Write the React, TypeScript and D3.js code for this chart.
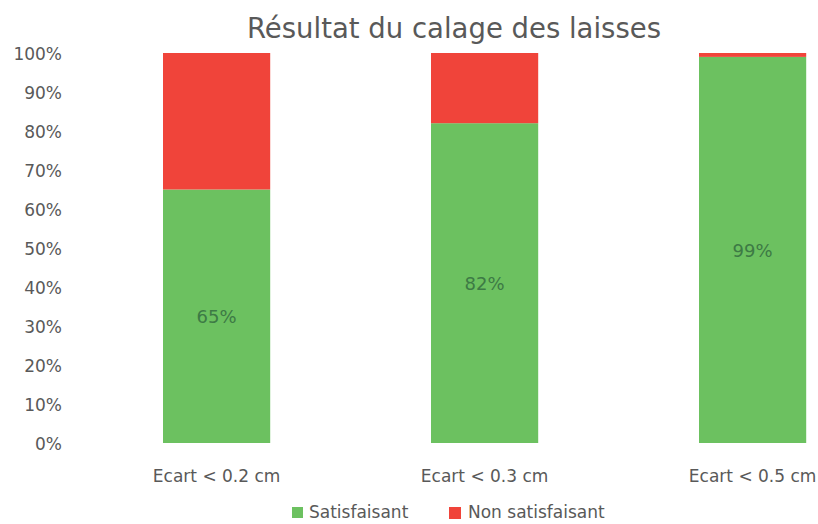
import React from "react";
import * as d3 from "d3";

const categories = ["Ecart < 0.2 cm", "Ecart < 0.3 cm", "Ecart < 0.5 cm"];
const satisfaisant = [65, 82, 99];
const nonSatisfaisant = [35, 18, 1];
const yTicks = [0, 10, 20, 30, 40, 50, 60, 70, 80, 90, 100];

const width = 818;
const height = 524;
const FONT = "'DejaVu Sans', sans-serif";
const GREEN = "#6cc160";
const RED = "#f0443a";
const TEXT = "#595959";

const App = () => {
  const x = d3
    .scaleBand<string>()
    .domain(categories)
    .range([82.6, 886.6])
    .paddingInner(0.6)
    .paddingOuter(0.3);

  const y = d3.scaleLinear().domain([0, 100]).range([443, 53]);

  const rows = categories.map((c, i) => ({
    cat: c,
    Satisfaisant: satisfaisant[i],
    NonSatisfaisant: nonSatisfaisant[i],
  }));
  const stack = d3.stack<any>().keys(["Satisfaisant", "NonSatisfaisant"]);
  const series = stack(rows);
  const colors = [GREEN, RED];

  return (
    <svg
      width={width}
      height={height}
      style={{ position: "absolute", left: 0, top: 0, background: "#fff" }}
    >
      <text
        x={454}
        y={38}
        textAnchor="middle"
        fontFamily={FONT}
        fontSize={27.5}
        fill={TEXT}
      >
        Résultat du calage des laisses
      </text>

      {yTicks.map((t) => (
        <text
          key={t}
          x={62}
          y={y(t) + 7}
          textAnchor="end"
          fontFamily={FONT}
          fontSize={17}
          fill={TEXT}
        >
          {t}%
        </text>
      ))}

      {series.map((s, si) =>
        s.map((d, i) => (
          <rect
            key={`${si}-${i}`}
            x={x(categories[i])}
            y={y(d[1])}
            width={x.bandwidth()}
            height={y(d[0]) - y(d[1])}
            fill={colors[si]}
          />
        ))
      )}

      {satisfaisant.map((v, i) => (
        <text
          key={i}
          x={(x(categories[i]) as number) + x.bandwidth() / 2}
          y={y(v / 2) + 7}
          textAnchor="middle"
          fontFamily={FONT}
          fontSize={18}
          fill="#3d7a45"
        >
          {v}%
        </text>
      ))}

      {categories.map((c) => (
        <text
          key={c}
          x={(x(c) as number) + x.bandwidth() / 2}
          y={482}
          textAnchor="middle"
          fontFamily={FONT}
          fontSize={17}
          fill={TEXT}
        >
          {c}
        </text>
      ))}

      <rect x={292} y={507} width={11} height={11} fill={GREEN} />
      <text x={309} y={518} fontFamily={FONT} fontSize={17} fill={TEXT}>
        Satisfaisant
      </text>
      <rect x={449} y={507} width={12} height={12} fill={RED} />
      <text x={468} y={518} fontFamily={FONT} fontSize={17} fill={TEXT}>
        Non satisfaisant
      </text>
    </svg>
  );
};

export default App;
